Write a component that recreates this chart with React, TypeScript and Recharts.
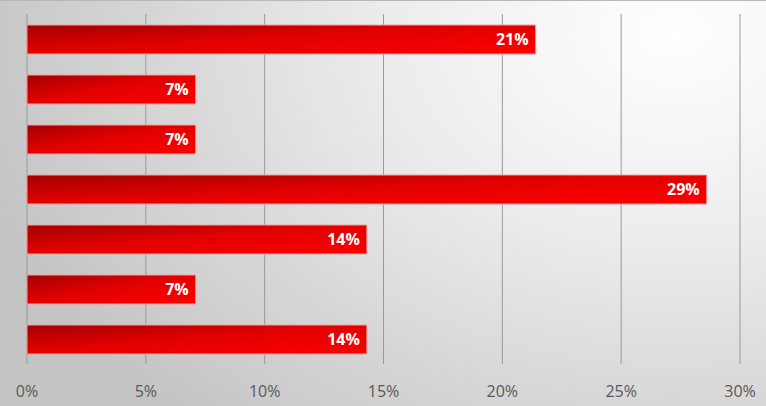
import React from "react";
import {
  BarChart,
  Bar,
  XAxis,
  YAxis,
  CartesianGrid,
  LabelList,
} from "recharts";

// categories have no visible labels in the picture
const categories = ["A", "B", "C", "D", "E", "F", "G"];
const shares = [0.214, 0.071, 0.071, 0.286, 0.143, 0.071, 0.143];
const ticks = [0, 0.05, 0.1, 0.15, 0.2, 0.25, 0.3];

const data = categories.map((name, i) => ({ name, value: shares[i] }));

const pct = (v: number) => `${Math.round(v * 100)}%`;

const App: React.FC = () => {
  return (
    <div
      style={{
        width: 766,
        height: 406,
        position: "absolute",
        top: 0,
        left: 0,
        boxSizing: "border-box",
        borderTop: "1px solid #b8b8b8",
        background:
          "radial-gradient(ellipse 95% 130% at 88% 8%, #ffffff 0%, #ececec 40%, #d4d4d4 75%, #c4c4c4 100%)",
      }}
    >
      <BarChart
        width={766}
        height={405}
        data={data}
        layout="vertical"
        barSize={29}
        margin={{ top: 13, right: 26, bottom: 12, left: 27 }}
      >
        <defs>
          <linearGradient id="barFill" x1="0" y1="0" x2="1" y2="1">
            <stop offset="0%" stopColor="#a30000" />
            <stop offset="45%" stopColor="#e00000" />
            <stop offset="100%" stopColor="#ff0000" />
          </linearGradient>
        </defs>
        <CartesianGrid horizontal={false} stroke="#9a9a9a" strokeWidth={1} />
        <XAxis
          type="number"
          domain={[0, 0.3]}
          ticks={ticks}
          tickFormatter={pct}
          axisLine={false}
          tickLine={false}
          tickMargin={16}
          height={30}
          interval={0}
          tick={{
            fill: "#595959",
            fontSize: 16,
            fontFamily: "'Open Sans', sans-serif",
          }}
        />
        <YAxis type="category" dataKey="name" hide width={0} />
        <Bar
          dataKey="value"
          fill="url(#barFill)"
          stroke="#f2a0a0"
          strokeWidth={1}
          isAnimationActive={false}
        >
          <LabelList
            dataKey="value"
            position="insideRight"
            offset={7}
            formatter={(v: number) => pct(v)}
            fill="#ffffff"
            style={{
              fontFamily: "'Open Sans', sans-serif",
              fontWeight: 700,
              fontSize: 16,
            }}
          />
        </Bar>
      </BarChart>
    </div>
  );
};

export default App;
